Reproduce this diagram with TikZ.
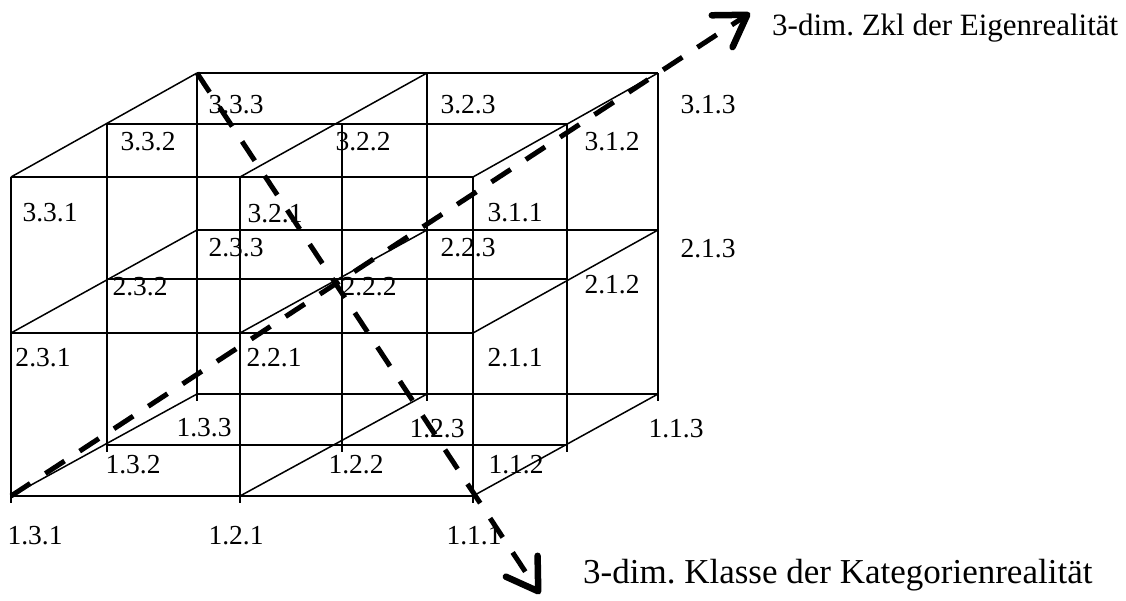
\documentclass[tikz,border=0pt]{standalone}
\usepackage{fontspec}
\setmainfont{Liberation Serif}
\usetikzlibrary{arrows.meta}
\begin{document}
\frenchspacing
\begin{tikzpicture}[x=1pt,y=-1pt,
  grid/.style={line width=1.5pt},
  vline/.style={grid, shorten >=-7pt},
  lbl/.style={inner sep=0pt, font=\fontsize{27.5}{33}\selectfont},
  axisline/.style={line width=5pt, dash pattern=on 23pt off 18pt,
    -{Straight Barb[length=30pt,width=38pt,line width=6.5pt,round]}},
  axislabel/.style={inner sep=0pt, anchor=base west},
]
\useasboundingbox (0,0) rectangle (1126,600);
% lattice points p<row><col><depth>
\foreach \c/\xa/\xb/\xc in {1/473/567/658, 2/240/342/427, 3/11/107/197}{
  \foreach \r/\ya/\yb/\yc in {1/496/445/394, 2/333/279/230, 3/177/124/73}{
    \coordinate (p\r\c1) at (\xa,\ya);
    \coordinate (p\r\c2) at (\xb,\yb);
    \coordinate (p\r\c3) at (\xc,\yc);
  }
}
% horizontal lines
\foreach \r in {1,2,3}{\foreach \z in {1,2,3}{\draw[grid] (p\r3\z) -- (p\r1\z);}}
% depth lines
\foreach \r in {1,2,3}{\foreach \c in {1,2,3}{\draw[grid] (p\r\c1) -- (p\r\c3);}}
% vertical lines
\foreach \c in {1,2,3}{\foreach \z in {1,2,3}{\draw[vline] (p3\c\z) -- (p1\c\z);}}
% labels
\node[lbl] (l333) at (236,105) {3.3.3};
\node[lbl] (l332) at (148,142) {3.3.2};
\node[lbl] (l331) at (50,213) {3.3.1};
\node[lbl] (l323) at (468,105) {3.2.3};
\node[lbl] (l322) at (363,142) {3.2.2};
\node[lbl] (l321) at (275,214) {3.2.1};
\node[lbl] (l313) at (708,105) {3.1.3};
\node[lbl] (l312) at (612,142) {3.1.2};
\node[lbl] (l311) at (515,213) {3.1.1};
\node[lbl] (l233) at (236,248) {2.3.3};
\node[lbl] (l232) at (140,287) {2.3.2};
\node[lbl] (l231) at (43,358) {2.3.1};
\node[lbl] (l223) at (468,248) {2.2.3};
\node[lbl] (l222) at (369,287) {2.2.2};
\node[lbl] (l221) at (274,358) {2.2.1};
\node[lbl] (l213) at (708,249) {2.1.3};
\node[lbl] (l212) at (612,285) {2.1.2};
\node[lbl] (l211) at (515,358) {2.1.1};
\node[lbl] (l133) at (204,428) {1.3.3};
\node[lbl] (l132) at (133,465) {1.3.2};
\node[lbl] (l131) at (35,536) {1.3.1};
\node[lbl] (l123) at (437,429) {1.2.3};
\node[lbl] (l122) at (356,465) {1.2.2};
\node[lbl] (l121) at (236,536) {1.2.1};
\node[lbl] (l113) at (676,429) {1.1.3};
\node[lbl] (l112) at (516,465) {1.1.2};
\node[lbl] (l111) at (474,536) {1.1.1};
% axes
\coordinate (tipA) at (750,13);
\coordinate (tipB) at (540,594);
\draw[axisline] (p131) -- (tipA);
\draw[axisline] (p333) -- (tipB);
\node[axislabel, font=\fontsize{31}{37}\selectfont] (tA) at (772,35) {3-dim. Zkl der Eigenrealität};
\node[axislabel, font=\fontsize{35}{42}\selectfont] (tB) at (583,583) {3-dim. Klasse der Kategorienrealität};
\end{tikzpicture}
\end{document}
